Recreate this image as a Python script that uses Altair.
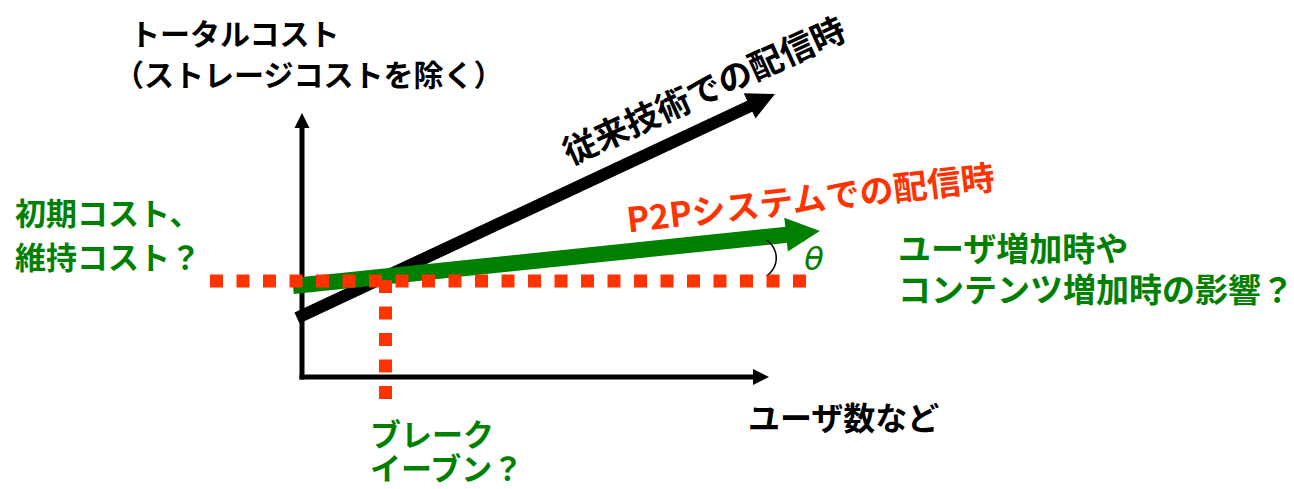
import altair as alt
import pandas as pd

W, H = 1294, 489
BLACK = "#000000"
GREEN = "#008000"
RED = "#FF3300"
FONT = "Noto Sans CJK JP"

# --- solid strokes: axes and the two cost lines (diagram units = pixels) ---
seg_name = ["y_axis", "x_axis", "conventional", "p2p"]
seg_x1 = [302, 299.5, 297, 293]
seg_y1 = [379.5, 377, 318, 286]
seg_x2 = [302, 762, 763, 804]
seg_y2 = [121, 377, 100, 233]
seg_width = [5, 5, 12, 16]
seg_color = [BLACK, BLACK, BLACK, GREEN]

# --- arrow heads ---
head_x = [302, 761, 762.3, 803]
head_y = [120.5, 377, 99.9, 232.8]
head_size = [225, 256, 784, 1156]
head_angle = [270, 0, 335, 354]
head_color = [BLACK, BLACK, BLACK, GREEN]

# --- dotted guide lines (initial cost level, break-even) ---
dot_x1 = [210, 385.5]
dot_y1 = [281, 280]
dot_x2 = [806, 385.5]
dot_y2 = [281, 400]

# --- left aligned labels ---
lab_text = ["トータルコスト", "（ストレージコストを除く）", "初期コスト、", "維持コスト？",
            "ユーザ増加時や", "コンテンツ増加時の影響？", "ユーザ数など", "ブレーク", "イーブン？"]
lab_x = [130, 114, 15, 15, 898, 898, 748, 370, 370]
lab_y = [36, 77, 216, 260, 251, 292, 420, 437, 471]
lab_color = [BLACK, BLACK, GREEN, GREEN, GREEN, GREEN, BLACK, GREEN, GREEN]
lab_size = [30, 30, 31, 31, 33, 33, 32, 31, 31]

# --- rotated line labels ---
rot_text = ["従来技術での配信時", "P2Pシステムでの配信時"]
rot_x = [705, 811]
rot_y = [93, 201]
rot_angle = [335.5, 353.3]
rot_color = [BLACK, RED]
rot_size = [34, 34]

# --- angle marker ---
theta_x = [755]
theta_y = [258]
theta_lbl = ["θ"]
theta_lbl_x = [814]
theta_lbl_y = [260]

xs = alt.Scale(domain=[0, W], nice=False, zero=False)
ys = alt.Scale(domain=[0, H], reverse=True, nice=False, zero=False)

segs = pd.DataFrame(dict(name=seg_name, x1=seg_x1, y1=seg_y1, x2=seg_x2, y2=seg_y2,
                         w=seg_width, c=seg_color))
heads = pd.DataFrame(dict(x=head_x, y=head_y, s=head_size, a=head_angle, c=head_color))
dots = pd.DataFrame(dict(x1=dot_x1, y1=dot_y1, x2=dot_x2, y2=dot_y2))
labs = pd.DataFrame(dict(t=lab_text, x=lab_x, y=lab_y, c=lab_color, s=lab_size))
rots = pd.DataFrame(dict(t=rot_text, x=rot_x, y=rot_y, a=rot_angle, c=rot_color, s=rot_size))
arc_df = pd.DataFrame(dict(x=theta_x, y=theta_y))
th_df = pd.DataFrame(dict(t=theta_lbl, x=theta_lbl_x, y=theta_lbl_y))

seg_layer = alt.Chart(segs).mark_rule(strokeCap="butt").encode(
    x=alt.X("x1:Q", scale=xs, axis=None),
    y=alt.Y("y1:Q", scale=ys, axis=None),
    x2="x2:Q", y2="y2:Q",
    strokeWidth=alt.StrokeWidth("w:Q", scale=None),
    color=alt.Color("c:N", scale=None),
)

head_layer = alt.Chart(heads).mark_point(
    shape="M-1,-1L1,0L-1,1Z", filled=True, opacity=1, strokeWidth=0
).encode(
    x=alt.X("x:Q", scale=xs, axis=None),
    y=alt.Y("y:Q", scale=ys, axis=None),
    size=alt.Size("s:Q", scale=None),
    angle=alt.Angle("a:Q", scale=None),
    color=alt.Color("c:N", scale=None),
)

dot_layer = alt.Chart(dots).mark_rule(
    color=RED, strokeWidth=13, strokeDash=[13, 13.5], strokeCap="butt"
).encode(
    x=alt.X("x1:Q", scale=xs, axis=None),
    y=alt.Y("y1:Q", scale=ys, axis=None),
    x2="x2:Q", y2="y2:Q",
)

arc_layer = alt.Chart(arc_df).mark_arc(
    theta=0.57, theta2=2.57, radius=22, radius2=20.5, color=BLACK
).encode(
    x=alt.X("x:Q", scale=xs, axis=None),
    y=alt.Y("y:Q", scale=ys, axis=None),
)

lab_layer = alt.Chart(labs).mark_text(
    align="left", baseline="middle", font=FONT, fontWeight="bold"
).encode(
    x=alt.X("x:Q", scale=xs, axis=None),
    y=alt.Y("y:Q", scale=ys, axis=None),
    text="t:N",
    color=alt.Color("c:N", scale=None),
    size=alt.Size("s:Q", scale=None),
)

rot_layer = alt.Chart(rots).mark_text(
    align="center", baseline="middle", font=FONT, fontWeight="bold"
).encode(
    x=alt.X("x:Q", scale=xs, axis=None),
    y=alt.Y("y:Q", scale=ys, axis=None),
    text="t:N",
    angle=alt.Angle("a:Q", scale=None),
    color=alt.Color("c:N", scale=None),
    size=alt.Size("s:Q", scale=None),
)

th_layer = alt.Chart(th_df).mark_text(
    align="center", baseline="middle", font="DejaVu Sans", fontStyle="italic",
    fontSize=32, color=GREEN
).encode(
    x=alt.X("x:Q", scale=xs, axis=None),
    y=alt.Y("y:Q", scale=ys, axis=None),
    text="t:N",
)

chart = alt.layer(
    seg_layer, head_layer, arc_layer, dot_layer, lab_layer, rot_layer, th_layer
).properties(
    width=W, height=H, padding=0, autosize="none"
).configure_view(stroke=None)

chart.save("out.html", embed_options={"renderer": "svg", "actions": False})
